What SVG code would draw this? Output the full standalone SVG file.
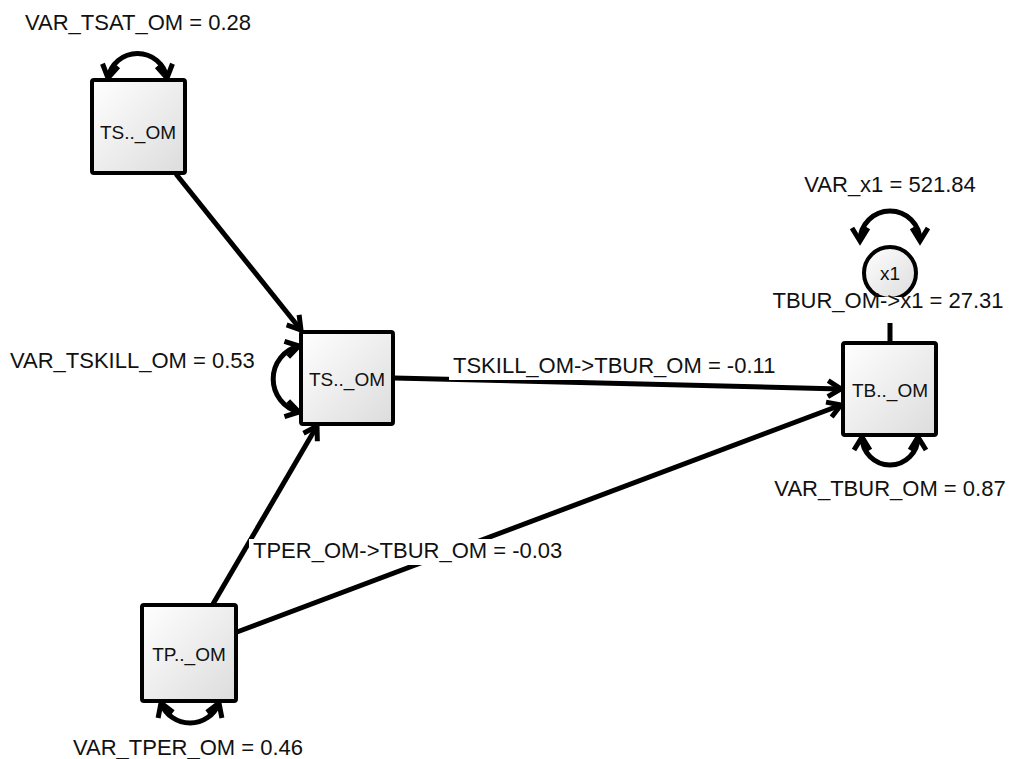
<svg xmlns="http://www.w3.org/2000/svg" width="1011" height="759" viewBox="0 0 1011 759">
<style>
.node rect,.node circle{fill:url(#g);stroke:#000;stroke-width:4}
.nt{font-family:"Liberation Sans",Arial,sans-serif;font-size:19px;fill:#111;text-anchor:middle}
.lb{font-family:"Liberation Sans",Arial,sans-serif;font-size:22px;fill:#111}
.c{stroke:#000;stroke-width:5;fill:none}
.a{marker-end:url(#ah)}
.l{marker-start:url(#ah);marker-end:url(#ah)}
.bg{fill:#fff}
</style>
<defs>
<linearGradient id="g" x1="0" y1="0" x2="1" y2="1">
<stop offset="0" stop-color="#ffffff"/>
<stop offset="1" stop-color="#dcdcdc"/>
</linearGradient>
<marker id="ah" viewBox="-3 -3 22 22" markerWidth="22" markerHeight="22" refX="14" refY="8" orient="auto-start-reverse" markerUnits="userSpaceOnUse" overflow="visible">
<path d="M1,0 L14,8 L1,16" fill="none" stroke="#000" stroke-width="5"/>
</marker>
</defs>
<rect width="1011" height="759" fill="#fff"/>
<g id="connectors">
<path class="c a" d="M176,174 L301,330"/>
<path class="c a" d="M394,378 L841,389"/>
<path class="c a" d="M213,604 L317,426"/>
<path class="c a" d="M237,632 L841,405"/>
<path class="c" d="M890,342 L890,300"/>
<path class="c l" d="M108,78 A30,30 0 0 1 167,78"/>
<path class="c l" d="M299,346 A34,34 0 0 0 299,412"/>
<path class="c l" d="M860,241 A30,30 0 0 1 920,241"/>
<path class="c l" d="M862,437 A28,28 0 0 0 918,437"/>
<path class="c l" d="M161,703 A31,31 0 0 0 219,703"/>
</g>
<g id="labels">
<text class="lb" x="138" y="30" text-anchor="middle">VAR_TSAT_OM = 0.28</text>
<text class="lb" x="10" y="368">VAR_TSKILL_OM = 0.53</text>
<text class="lb" x="890" y="192" text-anchor="middle">VAR_x1 = 521.84</text>
<text class="lb" x="890" y="496" text-anchor="middle">VAR_TBUR_OM = 0.87</text>
<text class="lb" x="188" y="755" text-anchor="middle">VAR_TPER_OM = 0.46</text>
<rect class="bg" x="449" y="353" width="333" height="27"/>
<text class="lb" x="453" y="373">TSKILL_OM-&gt;TBUR_OM = -0.11</text>
<rect class="bg" x="249" y="539" width="323" height="26"/>
<text class="lb" x="253" y="558">TPER_OM-&gt;TBUR_OM = -0.03</text>
</g>
<g id="n_TSAT" class="node">
<rect x="92" y="80" width="93" height="93" rx="2"/>
<text class="nt" x="138" y="139">TS.._OM</text>
</g>
<g id="n_TSKILL" class="node">
<rect x="301" y="332" width="92" height="92" rx="2"/>
<text class="nt" x="347" y="386">TS.._OM</text>
</g>
<g id="n_TBUR" class="node">
<rect x="843" y="343" width="93" height="92" rx="2"/>
<text class="nt" x="890" y="397">TB.._OM</text>
</g>
<g id="n_TPER" class="node">
<rect x="142" y="605" width="94" height="96" rx="2"/>
<text class="nt" x="189" y="661">TP.._OM</text>
</g>
<g id="n_x1" class="node">
<circle cx="890" cy="273" r="26"/>
<text class="nt" x="890" y="280">x1</text>
</g>
<g id="label_x1">
<rect class="bg" x="772" y="297" width="234" height="26"/>
<text class="lb" x="888" y="308" text-anchor="middle">TBUR_OM-&gt;x1 = 27.31</text>
</g>
</svg>
